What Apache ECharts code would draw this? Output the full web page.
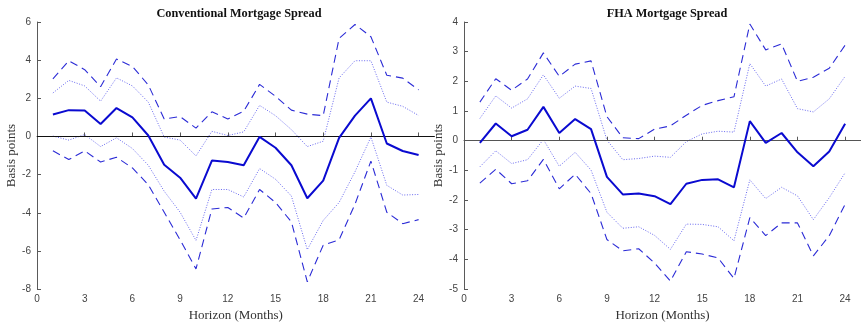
<!DOCTYPE html>
<html>
<head>
<meta charset="utf-8">
<script src="https://cdn.jsdelivr.net/npm/echarts@6/dist/echarts.min.js"></script>
<style>
  html, body { margin: 0; padding: 0; background: #fff; }
  #chart { width: 861px; height: 327px; }
</style>
</head>
<body>
<div id="chart"></div>
<script>
// horizon in months
const horizons = [1, 2, 3, 4, 5, 6, 7, 8, 9, 10, 11, 12, 13, 14, 15, 16, 17, 18, 19, 20, 21, 22, 23, 24];
const xTicks = [0, 3, 6, 9, 12, 15, 18, 21, 24];

// Conventional mortgage spread
const convMid = [1.15, 1.38, 1.36, 0.65, 1.49, 1.0, 0.05, -1.48, -2.16, -3.26, -1.26, -1.34, -1.51, -0.02, -0.59, -1.51, -3.24, -2.31, -0.07, 1.09, 2.0, -0.37, -0.76, -0.97];
const convInnerUp = [2.28, 2.94, 2.65, 1.85, 3.07, 2.65, 1.8, -0.03, -0.19, -1.02, 0.27, 0.05, 0.24, 1.63, 1.09, 0.36, -0.53, -0.25, 3.07, 3.97, 3.97, 1.8, 1.58, 1.1];
const convInnerLo = [0.02, -0.19, 0.1, -0.53, -0.07, -0.63, -1.51, -2.87, -3.97, -5.45, -2.78, -2.78, -3.17, -1.68, -2.24, -3.12, -5.93, -4.4, -3.46, -1.85, -0.03, -2.56, -3.07, -3.04];
const convOuterUp = [3.02, 3.97, 3.5, 2.61, 4.06, 3.67, 2.7, 0.92, 1.04, 0.44, 1.29, 0.92, 1.32, 2.73, 2.11, 1.38, 1.17, 1.09, 5.14, 5.87, 5.23, 3.21, 3.06, 2.44];
const convOuterLo = [-0.75, -1.21, -0.75, -1.34, -1.09, -1.65, -2.53, -3.97, -5.42, -6.94, -3.8, -3.72, -4.28, -2.78, -3.46, -4.48, -7.62, -5.7, -5.42, -3.55, -1.29, -3.97, -4.57, -4.36];

// FHA mortgage spread
const fhaMid = [-0.07, 0.58, 0.15, 0.37, 1.14, 0.26, 0.73, 0.39, -1.22, -1.81, -1.78, -1.87, -2.14, -1.45, -1.32, -1.3, -1.57, 0.66, -0.07, 0.26, -0.39, -0.86, -0.36, 0.57];
const fhaInnerUp = [0.75, 1.51, 1.1, 1.41, 2.22, 1.43, 1.84, 1.76, 0.02, -0.64, -0.6, -0.52, -0.56, -0.03, 0.23, 0.32, 0.29, 2.6, 1.84, 2.08, 1.08, 0.97, 1.41, 2.17];
const fhaInnerLo = [-0.88, -0.34, -0.77, -0.64, 0.04, -0.86, -0.39, -0.99, -2.41, -2.95, -2.9, -3.19, -3.66, -2.81, -2.82, -2.9, -3.37, -1.32, -1.95, -1.57, -1.86, -2.66, -1.92, -1.08];
const fhaOuterUp = [1.3, 2.09, 1.7, 2.08, 2.96, 2.17, 2.58, 2.69, 0.81, 0.1, 0.07, 0.39, 0.5, 0.86, 1.19, 1.35, 1.48, 3.93, 3.06, 3.26, 2.0, 2.14, 2.44, 3.22];
const fhaOuterLo = [-1.43, -0.96, -1.45, -1.35, -0.63, -1.62, -1.13, -1.78, -3.33, -3.71, -3.64, -4.12, -4.73, -3.74, -3.82, -3.95, -4.64, -2.59, -3.2, -2.77, -2.77, -3.88, -3.2, -2.14];

const titles = ['Conventional Mortgage Spread', 'FHA Mortgage Spread'];

const chart = echarts.init(document.getElementById('chart'));

const pair = (ys) => horizons.map((h, i) => [h, ys[i]]);

const axisColor = '#5a5a5a';
const labelFont = { fontFamily: 'Liberation Sans', fontSize: 10, color: '#444' };

function bandSeries(idx, mid, innerUp, innerLo, outerUp, outerLo, zeroColor) {
  const base = { type: 'line', xAxisIndex: idx, yAxisIndex: idx, symbol: 'none', silent: true, animation: false };
  const dashed = { color: '#2b2bd6', width: 1.1, type: [8, 5] };
  const dotted = { color: '#6a6af0', width: 1, type: [1, 1.6] };
  return [
    { ...base, data: pair(outerUp), lineStyle: dashed },
    { ...base, data: pair(outerLo), lineStyle: dashed },
    { ...base, data: pair(innerUp), lineStyle: dotted },
    { ...base, data: pair(innerLo), lineStyle: dotted },
    {
      ...base, data: pair(mid), z: 5,
      lineStyle: { color: '#0a0ad0', width: 2 },
      markLine: {
        silent: true, symbol: 'none', label: { show: false },
        lineStyle: { color: zeroColor, width: 1.2, type: 'solid' },
        data: [{ yAxis: 0 }]
      }
    }
  ];
}

function xAxis(idx) {
  return {
    type: 'value', gridIndex: idx, min: 0, max: 25,
    name: 'Horizon (Months)', nameLocation: 'middle', nameGap: 17,
    nameTextStyle: { fontFamily: 'Liberation Serif', fontSize: 13, color: '#333' },
    axisLine: { lineStyle: { color: axisColor } },
    axisTick: { inside: true, length: 4, customValues: xTicks, lineStyle: { color: axisColor } },
    axisLabel: { ...labelFont, margin: 5, customValues: xTicks },
    splitLine: { show: false }
  };
}

function yAxis(idx, min, max, interval) {
  return {
    type: 'value', gridIndex: idx, min, max, interval,
    name: 'Basis points', nameLocation: 'middle', nameGap: 17,
    nameTextStyle: { fontFamily: 'Liberation Serif', fontSize: 13, color: '#333' },
    axisLine: { show: true, lineStyle: { color: axisColor } },
    axisTick: { show: true, inside: true, length: 4, lineStyle: { color: axisColor } },
    axisLabel: { ...labelFont, margin: 6 },
    splitLine: { show: false }
  };
}

const option = {
  backgroundColor: '#fff',
  title: titles.map((t, i) => ({
    text: t,
    left: i === 0 ? 234 : 662,
    top: 3,
    textAlign: 'center',
    textStyle: { fontFamily: 'Liberation Serif', fontWeight: 'bold', fontSize: 12.3, color: '#111' }
  })),
  grid: [
    { left: 37, width: 397.5, top: 22, bottom: 30 },
    { left: 464, width: 399, top: 22, bottom: 30 }
  ],
  xAxis: [xAxis(0), xAxis(1)],
  yAxis: [yAxis(0, -8, 6, 2), yAxis(1, -5, 4, 1)],
  series: [
    ...bandSeries(0, convMid, convInnerUp, convInnerLo, convOuterUp, convOuterLo, '#111'),
    ...bandSeries(1, fhaMid, fhaInnerUp, fhaInnerLo, fhaOuterUp, fhaOuterLo, '#555')
  ]
};

chart.setOption(option);
</script>
</body>
</html>
